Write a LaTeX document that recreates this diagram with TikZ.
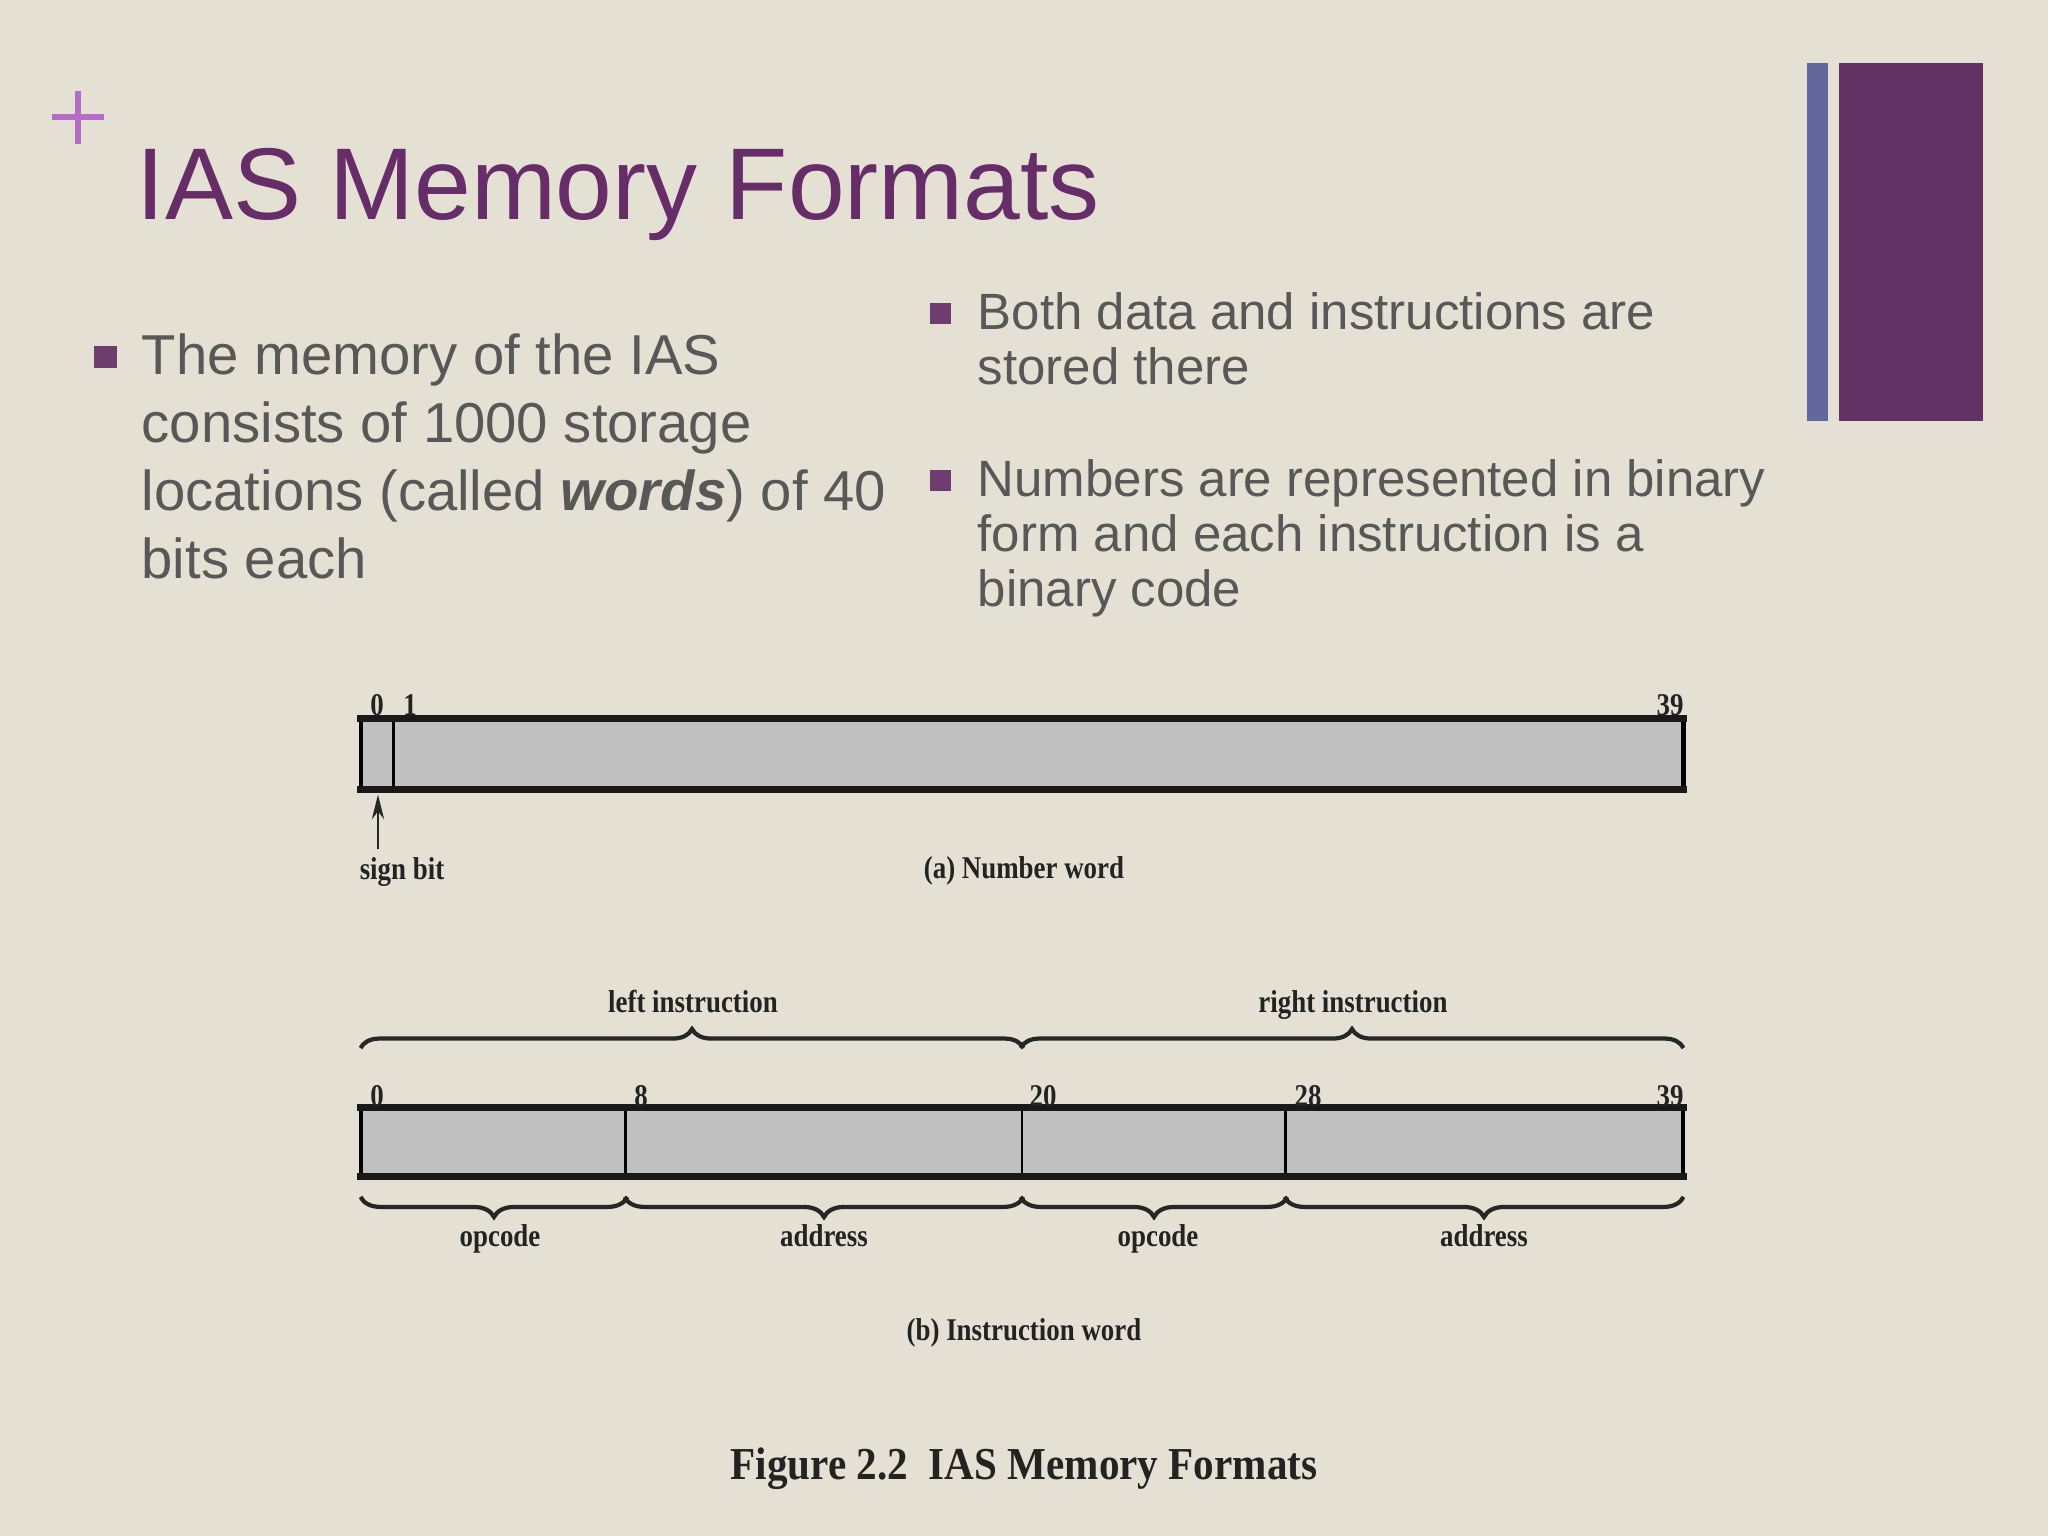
\documentclass[tikz,border=0pt]{standalone}
\usepackage{fontspec}
\setmainfont{Liberation Sans}
\newfontfamily\figfont{Liberation Serif}[FakeStretch=0.85]
\newfontfamily\capfont{Liberation Serif}[FakeStretch=0.9]
\usetikzlibrary{arrows.meta,decorations.pathreplacing}
\definecolor{bg}{RGB}{229,224,212}
\definecolor{barblue}{RGB}{98,104,158}
\definecolor{barpurple}{RGB}{99,50,101}
\definecolor{titlec}{RGB}{102,45,104}
\definecolor{plusc}{RGB}{180,110,200}
\definecolor{bodyc}{RGB}{88,88,88}
\definecolor{sqc}{RGB}{110,60,110}
\definecolor{fieldc}{RGB}{192,192,192}
\definecolor{figc}{RGB}{35,35,35}
\tikzset{
  bodyL/.style={anchor=base west, inner sep=0, text=bodyc, font=\fontsize{16}{19}\selectfont},
  bodyR/.style={anchor=base west, inner sep=0, text=bodyc, font=\fontsize{14.5}{17}\selectfont},
  sqbullet/.style={fill=sqc, inner sep=0, minimum size=0.21cm},
  field/.style={fill=fieldc, draw=black, line width=0.8pt, inner sep=0, minimum height=0.67cm},
  outerbox/.style={draw=black, line width=1pt},
  outeredge/.style={draw=black!90, line width=2pt, line cap=rect},
  bitnum/.style={anchor=base, inner sep=0, text=figc, font=\figfont\bfseries\fontsize{9}{10}\selectfont},
  figlbl/.style={anchor=base, inner sep=0, text=figc, font=\figfont\bfseries\fontsize{9}{10}\selectfont},
  bracetop/.style={draw=black!85, line width=1.2pt, decorate, decoration={brace, amplitude=0.19cm}},
  bracebot/.style={draw=black!85, line width=1.2pt, decorate, decoration={brace, mirror, amplitude=0.2cm}},
  arr/.style={draw=black!85, line width=0.6pt, -{Stealth[length=7pt,width=3.5pt]}, shorten >=1.5pt}
}
\begin{document}
\begin{tikzpicture}[x=0.01cm,y=-0.01cm]
\useasboundingbox (0,0) rectangle (2048,1536);
\fill[bg] (0,0) rectangle (2048,1536);
% side bars
\fill[barblue] (1807,63) rectangle (1828,421);
\fill[barpurple] (1839,63) rectangle (1983,421);
% plus sign
\draw[plusc, line width=1.5pt] (52,117) -- (104,117);
\draw[plusc, line width=1.5pt] (78,91) -- (78,144);
% title
\node[anchor=base west, inner sep=0, text=titlec, font=\fontsize{29}{35}\selectfont] (title) at (136,219) {IAS Memory Formats};
% left bullet
\node[sqbullet, minimum size=0.22cm] (sqL) at (105.5,356.5) {};
\node[bodyL] (l1) at (141,374) {The memory of the IAS};
\node[bodyL] (l2) at (141,442) {consists of 1000 storage};
\node[bodyL] (l3) at (141,510) {locations (called \textbf{\textit{words}}) of 40};
\node[bodyL] (l4) at (141,578) {bits each};
% right bullets
\node[sqbullet] (sqR1) at (940.5,313.5) {};
\node[bodyR] (r1) at (977,329) {Both data and instructions are};
\node[bodyR] (r2) at (977,384) {stored there};
\node[sqbullet] (sqR2) at (940.5,480.5) {};
\node[bodyR] (r3) at (977,496) {Numbers are represented in binary};
\node[bodyR] (r4) at (977,551) {form and each instruction is a};
\node[bodyR] (r5) at (977,606) {binary code};
% (a) number word
\node[field, minimum width=0.32cm, minimum height=0.68cm] (sign) at (378,754) {};
\node[field, minimum width=12.88cm, minimum height=0.68cm] (mag) at (1038,754) {};
\draw[outerbox] (sign.north west) rectangle (mag.south east);
\draw[outeredge] (sign.north west) -- (mag.north east);
\draw[outeredge] (sign.south west) -- (mag.south east);
\node[bitnum] (na0) at (377,715) {0};
\node[bitnum] (na1) at (410,715) {1};
\node[bitnum] (na39) at (1670,715) {39};
\coordinate (signtail) at (378,849);
\draw[arr] (signtail) -- (sign.south);
\node[figlbl] (signlbl) at (402,879) {sign bit};
\node[figlbl] (capa) at (1024,878) {(a) Number word};
% (b) instruction word
\node[field, minimum width=2.64cm] (f1) at (494,1142) {};
\node[field, minimum width=3.96cm] (f2) at (824,1142) {};
\node[field, minimum width=2.64cm] (f3) at (1154,1142) {};
\node[field, minimum width=3.96cm] (f4) at (1484,1142) {};
\draw[outerbox] (f1.north west) rectangle (f4.south east);
\draw[outeredge] (f1.north west) -- (f4.north east);
\draw[outeredge] (f1.south west) -- (f4.south east);
\node[bitnum] (nb0) at (377,1106) {0};
\node[bitnum] (nb8) at (641,1106) {8};
\node[bitnum] (nb20) at (1043,1106) {20};
\node[bitnum] (nb28) at (1308,1106) {28};
\node[bitnum] (nb39) at (1670,1106) {39};
\draw[bracetop] ([yshift=0.59cm]f1.north west) -- ([yshift=0.59cm]f2.north east);
\draw[bracetop] ([yshift=0.59cm]f3.north west) -- ([yshift=0.59cm]f4.north east);
\node[figlbl] (lefti) at (693,1012) {left instruction};
\node[figlbl] (righti) at (1353,1012) {right instruction};
\draw[bracebot] ([yshift=-0.2cm]f1.south west) -- ([yshift=-0.2cm]f1.south east);
\draw[bracebot] ([yshift=-0.2cm]f2.south west) -- ([yshift=-0.2cm]f2.south east);
\draw[bracebot] ([yshift=-0.2cm]f3.south west) -- ([yshift=-0.2cm]f3.south east);
\draw[bracebot] ([yshift=-0.2cm]f4.south west) -- ([yshift=-0.2cm]f4.south east);
\node[figlbl] (op1) at (500,1246) {opcode};
\node[figlbl] (ad1) at (824,1246) {address};
\node[figlbl] (op2) at (1158,1246) {opcode};
\node[figlbl] (ad2) at (1484,1246) {address};
\node[figlbl] (capb) at (1024,1340) {(b) Instruction word};
\node[anchor=base, inner sep=0, text=figc, font=\capfont\bfseries\fontsize{13}{15}\selectfont] (figcap) at (1024,1479) {Figure 2.2\ \ IAS Memory Formats};
\end{tikzpicture}
\end{document}
